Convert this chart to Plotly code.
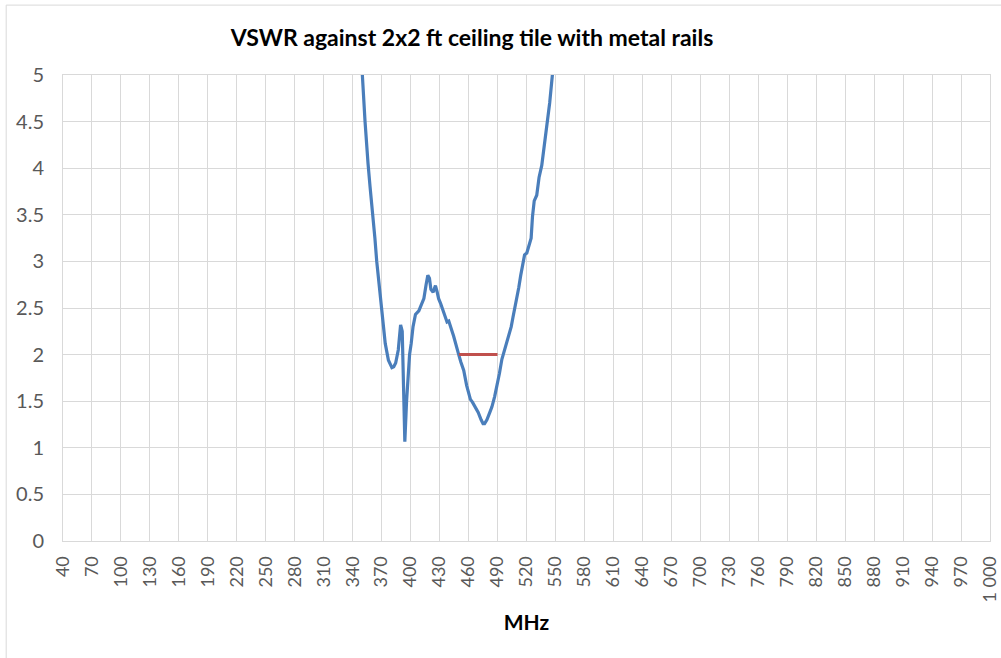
import plotly.graph_objects as go

# VSWR sweep (MHz, VSWR)
freq_mhz = [340, 350, 352.8, 354.5, 355.9, 358, 361, 363, 364.9, 367, 369.3, 371.7, 373.7, 377,
            380.6, 382.5, 384.5, 387.2, 389.6, 391.3, 392.5, 394, 395.8, 397.5, 398.9, 400.6,
            402.5, 405, 408.5, 410.5, 413.7, 416, 417.8, 419.5, 421, 423.3, 425.7, 427.5, 429,
            431, 434, 436, 437.7, 439.5, 441, 442.9, 444.5, 446.4, 448, 449.8, 452, 455, 458,
            461.9, 464, 467, 470, 473, 475, 476.6, 479, 482, 484.2, 487, 489.4, 492, 494.5,
            497.3, 499.7, 502, 504.2, 506, 508.3, 512, 514, 516.2, 518, 520.3, 522, 524.8,
            526.2, 528, 530.6, 533, 535.8, 538, 541.7, 544, 546.8, 552]
vswr = [6.2, 5.0, 4.5, 4.2, 4.05, 3.8, 3.5, 3.25, 3.0, 2.8, 2.59, 2.37, 2.12, 1.94,
        1.86, 1.87, 1.91, 2.05, 2.32, 2.25, 1.7, 1.065, 1.5, 1.8, 2.0, 2.12,
        2.3, 2.43, 2.47, 2.52, 2.6, 2.75, 2.85, 2.82, 2.7, 2.67, 2.74, 2.67, 2.6,
        2.55, 2.45, 2.38, 2.35, 2.36, 2.3, 2.25, 2.2, 2.12, 2.06, 2.0, 1.92, 1.83, 1.67,
        1.52, 1.49, 1.44, 1.38, 1.3, 1.26, 1.26, 1.3, 1.38, 1.44, 1.55, 1.66, 1.8, 1.95,
        2.05, 2.15, 2.22, 2.3, 2.4, 2.51, 2.72, 2.85, 2.98, 3.07, 3.09, 3.15, 3.25,
        3.48, 3.65, 3.71, 3.9, 4.03, 4.2, 4.5, 4.7, 5.0, 5.6]

# 2:1 bandwidth marker
band_mhz = [450, 490]
band_vswr = [2, 2]

x_ticks = list(range(40, 1001, 30))
y_ticks = [0, 0.5, 1, 1.5, 2, 2.5, 3, 3.5, 4, 4.5, 5]

grid = '#d9d9d9'
font_family = 'Lato, Open Sans, sans-serif'

fig = go.Figure(data=[
    go.Scatter(x=freq_mhz, y=vswr, mode='lines', line=dict(color='#4a7ebb', width=3.2), showlegend=False),
    go.Scatter(x=band_mhz, y=band_vswr, mode='lines', line=dict(color='#c0504d', width=3), showlegend=False),
])

fig.update_layout(
    width=1001, height=658,
    margin=dict(l=63, r=11, t=75, b=117),
    paper_bgcolor='white', plot_bgcolor='white',
    separators='. ',
    title=dict(text='<b>VSWR against 2x2 ft ceiling tile with metal rails</b>',
               xref='container', x=0.4715, xanchor='center', y=0.943, yanchor='middle',
               font=dict(family=font_family, size=23, color='#000000')),
    xaxis=dict(range=[39.99, 1000.01], tickvals=x_ticks, tickangle=-90, separatethousands=True,
               showgrid=True, gridcolor=grid, gridwidth=1, zeroline=False, automargin=False,
               showline=True, linecolor=grid, mirror=True, ticks='', ticklabeloverflow='allow',
               tickfont=dict(family=font_family, size=18, color='#595959'), ticklabelstandoff=7,
               title=dict(text='<b>MHz</b>', standoff=13,
                          font=dict(family=font_family, size=21, color='#000000'))),
    yaxis=dict(range=[0, 5], tickvals=y_ticks, showgrid=True, gridcolor=grid, gridwidth=1,
               zeroline=False, showline=True, linecolor=grid, mirror=True, ticks='',
               automargin=False, tickfont=dict(family=font_family, size=20, color='#595959'),
               ticklabelstandoff=14),
    shapes=[dict(type='rect', xref='paper', yref='paper', x0=-0.0613, y0=-0.3, x1=1.05, y1=1.15,
                 line=dict(color='#d9d9d9', width=1), layer='below')],
)

# page body has a default 8px margin; drop it so the figure sits at the window origin
fig.write_html('out.html', config={'displayModeBar': False},
               post_script="document.body.style.margin='0';")
